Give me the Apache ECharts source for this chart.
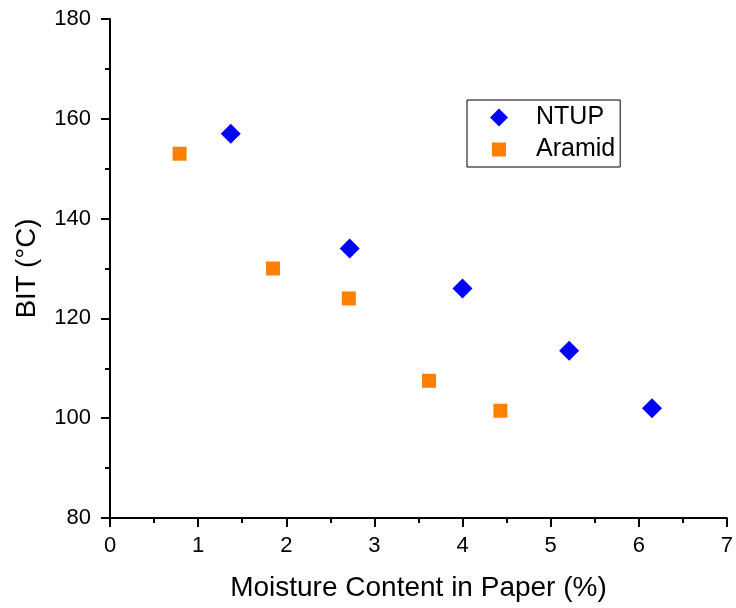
<!DOCTYPE html>
<html>
<head>
<meta charset="utf-8">
<script src="https://cdn.jsdelivr.net/npm/echarts@6/dist/echarts.min.js"></script>
<style>
  html, body { margin: 0; padding: 0; background: #fff; }
  #chart { width: 736px; height: 608px; }
</style>
</head>
<body>
<div id="chart"></div>
<script>
// NTUP points: moisture content (%) and BIT (°C)
const ntupMoisture = [1.37, 2.72, 4.0, 5.21, 6.15]
const ntupBit = [157, 134, 126, 113.5, 102]
// Aramid points
const aramidMoisture = [0.79, 1.85, 2.71, 3.62, 4.43]
const aramidBit = [153, 130, 124, 107.5, 101.5]

const seriesNames = ['NTUP', 'Aramid']
const xTicks = [0, 7, 1]   // min, max, interval
const yTicks = [80, 180, 20]

const font = 'Liberation Sans, Arial, sans-serif'
const axisColor = '#000000'
const ntupColor = '#0000ff'
const aramidColor = '#ff7f00'

const chart = echarts.init(document.getElementById('chart'))

const axisCommon = {
  axisLine: { show: true, lineStyle: { color: axisColor, width: 2 } },
  axisTick: { show: true, inside: false, length: 9, lineStyle: { color: axisColor, width: 2 } },
  minorTick: { show: true, splitNumber: 2, length: 5, lineStyle: { color: axisColor, width: 2 } },
  splitLine: { show: false },
  nameLocation: 'middle'
}

chart.setOption({
  animation: false,
  backgroundColor: '#ffffff',
  grid: { left: 110, right: 5, top: 19, bottom: 90 },
  xAxis: Object.assign({}, axisCommon, {
    type: 'value',
    min: xTicks[0],
    max: xTicks[1],
    interval: xTicks[2],
    name: 'Moisture Content in Paper (%)',
    nameGap: 56,
    nameTextStyle: { fontFamily: font, fontSize: 28, color: '#000' },
    axisLabel: { fontFamily: font, fontSize: 22, color: '#000', margin: 17 }
  }),
  yAxis: Object.assign({}, axisCommon, {
    type: 'value',
    min: yTicks[0],
    max: yTicks[1],
    interval: yTicks[2],
    name: 'BIT (°C)',
    nameGap: 69,
    nameTextStyle: { fontFamily: font, fontSize: 27.5, color: '#000' },
    axisLabel: { fontFamily: font, fontSize: 22, color: '#000', margin: 19 }
  }),
  legend: {
    orient: 'vertical',
    left: 467,
    top: 100,
    padding: [5, 5, 5, 23],
    itemGap: 7,
    itemWidth: 18,
    itemHeight: 18,
    borderColor: '#000',
    borderWidth: 1,
    borderRadius: 0,
    textStyle: { fontFamily: font, fontSize: 25, color: '#000', padding: [0, 0, 0, 23] },
    data: [
      { name: seriesNames[0], icon: 'diamond' },
      // square drawn smaller inside an 18px box
      { name: seriesNames[1], icon: 'path://M0,0M18,18M2,2L16,2L16,16L2,16Z' }
    ]
  },
  series: [
    {
      name: seriesNames[0],
      type: 'scatter',
      symbol: 'diamond',
      symbolSize: 20,
      itemStyle: { color: ntupColor, opacity: 1 },
      data: ntupMoisture.map((x, i) => [x, ntupBit[i]])
    },
    {
      name: seriesNames[1],
      type: 'scatter',
      symbol: 'rect',
      symbolSize: 14,
      itemStyle: { color: aramidColor, opacity: 1 },
      data: aramidMoisture.map((x, i) => [x, aramidBit[i]])
    }
  ]
})
</script>
</body>
</html>
